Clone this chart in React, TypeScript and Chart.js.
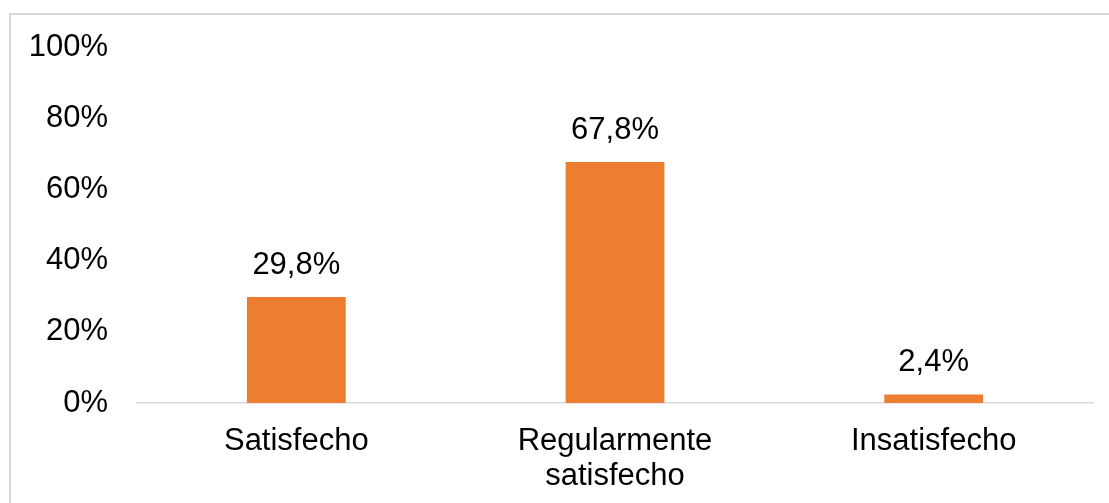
import React, { useEffect, useRef } from "react";
import { Chart, registerables } from "chart.js";

Chart.register(...registerables);

const categories: (string | string[])[] = ["Satisfecho", ["Regularmente", "satisfecho"], "Insatisfecho"];
const values: number[] = [29.8, 67.8, 2.4];
const yTicks: number[] = [0, 20, 40, 60, 80, 100];

const FONT = "'Liberation Sans', Arial, sans-serif";

const dataLabels = {
  id: "dataLabels",
  afterDatasetsDraw(chart: any) {
    const ctx = chart.ctx;
    const meta = chart.getDatasetMeta(0);
    ctx.save();
    ctx.font = `31px ${FONT}`;
    ctx.fillStyle = "#000";
    ctx.textAlign = "center";
    ctx.textBaseline = "middle";
    meta.data.forEach((bar: any, i: number) => {
      const v = values[i];
      const txt = v.toFixed(1).replace(".", ",") + "%";
      ctx.fillText(txt, bar.x, bar.y - 32);
    });
    ctx.restore();
  },
};

export default function App() {
  const ref = useRef<HTMLCanvasElement>(null);
  useEffect(() => {
    if (!ref.current) return;
    const chart = new Chart(ref.current, {
      type: "bar",
      data: {
        labels: categories,
        datasets: [
          {
            data: values,
            backgroundColor: "#ED7D31",
            barPercentage: 0.31,
            categoryPercentage: 1,
          },
        ],
      },
      options: {
        animation: false,
        responsive: false,
        layout: { padding: { top: 47, left: 0, right: 16, bottom: 0 } },
        plugins: { legend: { display: false }, tooltip: { enabled: false } },
        scales: {
          x: {
            grid: { display: false, drawTicks: false },
            border: { display: true, color: "#D9D9D9", width: 1.5 },
            ticks: {
              color: "#000",
              padding: 21,
              font: { family: FONT, size: 31, lineHeight: 1.13 },
              maxRotation: 0,
              autoSkip: false,
            },
            afterFit: (s: any) => {
              s.height = 100;
            },
          },
          y: {
            min: 0,
            max: 100,
            afterBuildTicks: (s: any) => {
              s.ticks = yTicks.map((v) => ({ value: v }));
            },
            grid: { display: false, drawTicks: false },
            border: { display: false },
            ticks: {
              color: "#000",
              padding: 29,
              font: { family: FONT, size: 31 },
              callback: (v: any) => v + "%",
            },
            afterFit: (s: any) => {
              s.width = 137;
            },
          },
        },
      },
      plugins: [dataLabels],
    });
    return () => chart.destroy();
  }, []);
  return (
    <div style={{ position: "fixed", left: 0, top: 0, width: 1109, height: 503, overflow: "hidden", background: "#fff" }}>
      <div
        style={{
          position: "absolute",
          left: 9,
          top: 13,
          width: 1200,
          height: 600,
          border: "2px solid #D9D9D9",
          boxSizing: "border-box",
        }}
      />
      <canvas ref={ref} width={1109} height={503} style={{ position: "absolute", left: 0, top: 0 }} />
    </div>
  );
}
